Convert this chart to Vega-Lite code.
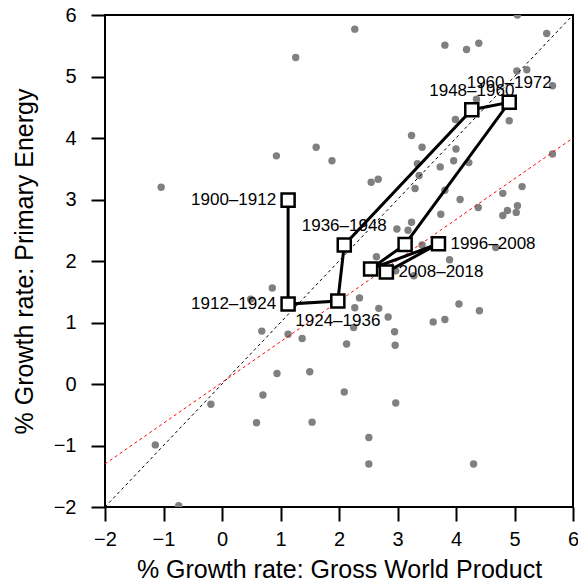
{
  "$schema": "https://vega.github.io/schema/vega-lite/v6.json",
  "width": 468,
  "height": 492,
  "autosize": "none",
  "padding": {"left": 105, "top": 15, "right": 5, "bottom": 78},
  "background": "white",
  "config": {
    "view": {"stroke": "black", "strokeWidth": 2},
    "font": "Liberation Sans",
    "axis": {
      "grid": false,
      "domain": false,
      "ticks": true,
      "tickColor": "black",
      "tickSize": 14,
      "tickWidth": 2,
      "labelColor": "black",
      "labelFont": "Liberation Sans",
      "labelFontSize": 20,
      "labelFlush": false,
      "labelOverlap": false,
      "titleFont": "Liberation Sans",
      "titleFontSize": 25,
      "titleFontWeight": "normal",
      "titleColor": "black"
    }
  },
  "datasets": {
    "points": [
      {"gwp": 1.26, "pe": 5.31}, {"gwp": 2.27, "pe": 5.77}, {"gwp": 5.05, "pe": 6.0}, {"gwp": 5.55, "pe": 5.7},
      {"gwp": 3.81, "pe": 5.51}, {"gwp": 4.18, "pe": 5.44}, {"gwp": 4.39, "pe": 5.54}, {"gwp": 5.04, "pe": 5.09},
      {"gwp": 5.21, "pe": 5.11}, {"gwp": 5.65, "pe": 4.85}, {"gwp": 4.35, "pe": 4.63}, {"gwp": 3.99, "pe": 4.3},
      {"gwp": 4.91, "pe": 4.28}, {"gwp": 3.24, "pe": 4.04}, {"gwp": 3.42, "pe": 3.85}, {"gwp": 4.0, "pe": 3.82},
      {"gwp": 1.88, "pe": 3.63}, {"gwp": 3.34, "pe": 3.58}, {"gwp": 3.73, "pe": 3.53}, {"gwp": 3.96, "pe": 3.63},
      {"gwp": 4.22, "pe": 3.6}, {"gwp": 3.37, "pe": 3.39}, {"gwp": 2.55, "pe": 3.28}, {"gwp": 2.67, "pe": 3.33},
      {"gwp": 3.3, "pe": 3.18}, {"gwp": 3.81, "pe": 3.15}, {"gwp": 5.65, "pe": 3.74}, {"gwp": 5.13, "pe": 3.21},
      {"gwp": 4.8, "pe": 3.1}, {"gwp": 4.07, "pe": 3.0}, {"gwp": 0.93, "pe": 3.71}, {"gwp": 1.61, "pe": 3.85},
      {"gwp": -1.04, "pe": 3.2}, {"gwp": 0.86, "pe": 1.56}, {"gwp": 0.49, "pe": 1.38}, {"gwp": 0.68, "pe": 0.86},
      {"gwp": 1.13, "pe": 0.81}, {"gwp": 1.37, "pe": 0.74}, {"gwp": 4.38, "pe": 2.87}, {"gwp": 5.05, "pe": 2.9},
      {"gwp": 4.88, "pe": 2.82}, {"gwp": 4.8, "pe": 2.74}, {"gwp": 5.03, "pe": 2.79}, {"gwp": 3.74, "pe": 2.76},
      {"gwp": 3.24, "pe": 2.63}, {"gwp": 2.99, "pe": 2.52}, {"gwp": 3.18, "pe": 2.5}, {"gwp": 3.42, "pe": 2.26},
      {"gwp": 4.68, "pe": 2.22}, {"gwp": 2.64, "pe": 2.07}, {"gwp": 3.89, "pe": 2.02}, {"gwp": 2.97, "pe": 1.84},
      {"gwp": 3.28, "pe": 1.76}, {"gwp": 2.35, "pe": 1.4}, {"gwp": 2.27, "pe": 1.24}, {"gwp": 2.68, "pe": 1.23},
      {"gwp": 4.05, "pe": 1.3}, {"gwp": 4.4, "pe": 1.19}, {"gwp": 2.84, "pe": 1.09}, {"gwp": 3.61, "pe": 1.01},
      {"gwp": 3.81, "pe": 1.05}, {"gwp": 2.25, "pe": 0.92}, {"gwp": 2.95, "pe": 0.85}, {"gwp": 2.13, "pe": 0.65},
      {"gwp": 2.96, "pe": 0.63}, {"gwp": 0.94, "pe": 0.17}, {"gwp": 1.5, "pe": 0.2}, {"gwp": 0.7, "pe": -0.18},
      {"gwp": -0.19, "pe": -0.33}, {"gwp": 0.59, "pe": -0.63}, {"gwp": 1.54, "pe": -0.62}, {"gwp": -1.14, "pe": -0.99},
      {"gwp": -0.74, "pe": -1.98}, {"gwp": 2.09, "pe": -0.13}, {"gwp": 2.97, "pe": -0.31}, {"gwp": 2.51, "pe": -0.87},
      {"gwp": 2.51, "pe": -1.3}, {"gwp": 4.3, "pe": -1.3}
    ],
    "refs": [
      {"gwp": -2, "pe": -2, "g": "identity"}, {"gwp": 6, "pe": 6, "g": "identity"},
      {"gwp": -2, "pe": -1.3, "g": "fit"}, {"gwp": 6, "pe": 4.0, "g": "fit"}
    ],
    "periods": [
      {"order": 1, "period": "1900–1912", "gwp": 1.13, "pe": 2.99, "pos": "left"},
      {"order": 2, "period": "1912–1924", "gwp": 1.13, "pe": 1.3, "pos": "left"},
      {"order": 3, "period": "1924–1936", "gwp": 1.98, "pe": 1.35, "pos": "bottom"},
      {"order": 4, "period": "1936–1948", "gwp": 2.09, "pe": 2.26, "pos": "top"},
      {"order": 5, "period": "1948–1960", "gwp": 4.27, "pe": 4.46, "pos": "top"},
      {"order": 6, "period": "1960–1972", "gwp": 4.91, "pe": 4.58, "pos": "top"},
      {"order": 7, "period": "1972–1984", "gwp": 3.13, "pe": 2.27, "pos": "none"},
      {"order": 8, "period": "1984–1996", "gwp": 2.54, "pe": 1.87, "pos": "none"},
      {"order": 9, "period": "1996–2008", "gwp": 3.7, "pe": 2.28, "pos": "right"},
      {"order": 10, "period": "2008–2018", "gwp": 2.81, "pe": 1.82, "pos": "right"}
    ]
  },
  "encoding": {
    "x": {"field": "gwp", "type": "quantitative", "scale": {"domain": [-2, 6], "nice": false, "zero": false},
      "axis": {"title": "% Growth rate: Gross World Product", "values": [-2, -1, 0, 1, 2, 3, 4, 5, 6], "labelPadding": 8, "titlePadding": 8}},
    "y": {"field": "pe", "type": "quantitative", "scale": {"domain": [-2, 6], "nice": false, "zero": false},
      "axis": {"title": "% Growth rate: Primary Energy", "values": [-2, -1, 0, 1, 2, 3, 4, 5, 6], "labelPadding": 15, "titlePadding": 16}}
  },
  "layer": [
    {"data": {"name": "points"}, "mark": {"type": "circle", "size": 55, "color": "#808080", "opacity": 1, "clip": true}},
    {"data": {"name": "refs"}, "transform": [{"filter": "datum.g == 'identity'"}],
      "mark": {"type": "line", "color": "black", "strokeWidth": 1, "strokeDash": [3, 3], "clip": true}},
    {"data": {"name": "refs"}, "transform": [{"filter": "datum.g == 'fit'"}],
      "mark": {"type": "line", "color": "red", "strokeWidth": 1, "strokeDash": [3, 3], "clip": true}},
    {"data": {"name": "periods"}, "mark": {"type": "line", "color": "black", "strokeWidth": 3},
      "encoding": {"order": {"field": "order", "type": "quantitative"}}},
    {"data": {"name": "periods"}, "mark": {"type": "square", "size": 170, "fill": "white", "stroke": "black", "strokeWidth": 2.5, "opacity": 1}},
    {"data": {"name": "periods"}, "transform": [{"filter": "datum.pos == 'left'"}],
      "mark": {"type": "text", "align": "right", "baseline": "middle", "dx": -12, "fontSize": 17, "color": "black"},
      "encoding": {"text": {"field": "period"}}},
    {"data": {"name": "periods"}, "transform": [{"filter": "datum.pos == 'right'"}],
      "mark": {"type": "text", "align": "left", "baseline": "middle", "dx": 12, "fontSize": 17, "color": "black"},
      "encoding": {"text": {"field": "period"}}},
    {"data": {"name": "periods"}, "transform": [{"filter": "datum.pos == 'top'"}],
      "mark": {"type": "text", "align": "center", "baseline": "middle", "dy": -19, "fontSize": 17, "color": "black"},
      "encoding": {"text": {"field": "period"}}},
    {"data": {"name": "periods"}, "transform": [{"filter": "datum.pos == 'bottom'"}],
      "mark": {"type": "text", "align": "center", "baseline": "middle", "dy": 20, "fontSize": 17, "color": "black"},
      "encoding": {"text": {"field": "period"}}}
  ]
}
